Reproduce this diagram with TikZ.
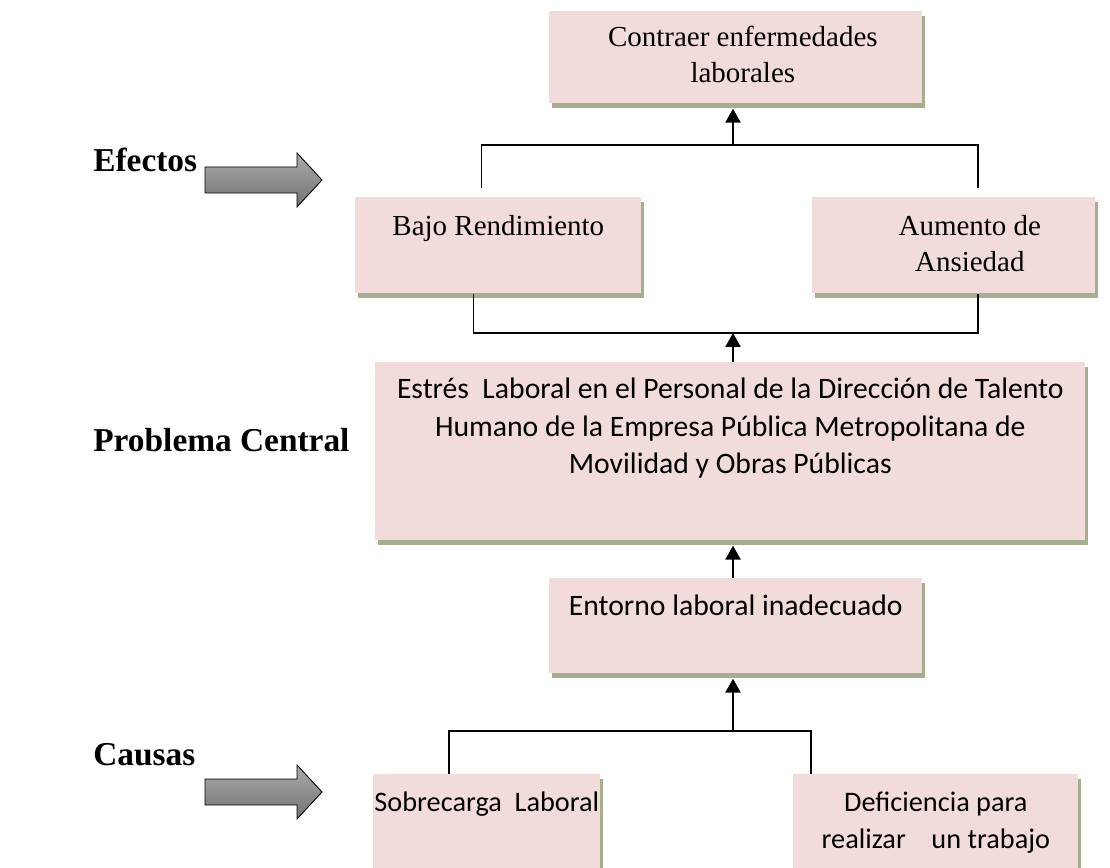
\documentclass[tikz,border=0pt]{standalone}
\usepackage{fontspec}
\setmainfont{Liberation Serif}
\newfontfamily\calibri{Carlito}
\usetikzlibrary{positioning,shadows,arrows.meta}

\definecolor{rosa}{RGB}{242,220,219}
\definecolor{oliva}{RGB}{165,174,144}
\definecolor{grisclaro}{RGB}{170,170,170}
\definecolor{grisoscuro}{RGB}{115,115,115}

\tikzset{
  caja/.style={fill=rosa, anchor=north west, inner sep=0pt,
    general shadow={fill=oliva, shadow xshift=0.06cm, shadow yshift=-0.1cm}},
  serif/.style={align=center, inner sep=0pt, font=\fontsize{16.5}{20.5}\selectfont},
  sans/.style={align=center, inner sep=0pt, font=\calibri\fontsize{16.9}{21.2}\selectfont},
  sanschica/.style={sans, font=\calibri\fontsize{16.1}{21.2}\selectfont},
  titulo/.style={anchor=west, inner sep=0pt, font=\bfseries\fontsize{19}{22}\selectfont},
  flechagris/.style={draw=black, line width=0.5pt, top color=grisclaro, bottom color=grisoscuro},
  linea/.style={line width=0.85pt},
  sube/.style={line width=1.4pt, -{Triangle[width=0.3cm,length=0.28cm]}},
}

\begin{document}
\begin{tikzpicture}[x=0.02cm, y=-0.02cm]
\path[use as bounding box, clip] (0,0) rectangle (1110,868);

% titulos de la izquierda
\node[titulo] (efectos) at (93,160) {Efectos};
\node[titulo] (problema) at (93,440) {Problema Central};
\node[titulo] (causas) at (93,755) {Causas};

\draw[flechagris] (205,167) -- ++(92,0) -- ++(0,-14) -- ++(25,27)
        -- ++(-25,27) -- ++(0,-14) -- ++(-92,0) -- cycle;
\draw[flechagris] (205,779) -- ++(92,0) -- ++(0,-14) -- ++(25,27)
        -- ++(-25,27) -- ++(0,-14) -- ++(-92,0) -- cycle;

% efectos
\node[caja, minimum width=7.46cm, minimum height=1.84cm] (contraer) at (549,11) {};
\node[serif, below=0.3cm of contraer.north, xshift=0.14cm] (contraertxt)
        {Contraer enfermedades\\laborales};

\node[caja, minimum width=5.72cm, minimum height=1.92cm] (bajo) at (355,197) {};
\node[serif, below=0.36cm of bajo.north] (bajotxt) {Bajo Rendimiento};

\node[caja, minimum width=5.66cm, minimum height=1.92cm] (aumento) at (812,197) {};
\node[serif, below=0.36cm of aumento.north, xshift=0.32cm] (aumentotxt)
        {Aumento de\\Ansiedad};

% problema central
\node[caja, minimum width=14.2cm, minimum height=3.56cm] (central) at (375,362) {};
\node[sans, below=0.32cm of central.north] (centraltxt)
        {Estrés~ Laboral en el Personal de la Dirección de Talento\\
         Humano de la Empresa Pública Metropolitana de\\
         Movilidad y Obras Públicas};

% causas
\node[caja, minimum width=7.46cm, minimum height=1.9cm] (entorno) at (549,578) {};
\node[sans, below=0.34cm of entorno.north] (entornotxt) {Entorno laboral inadecuado};

\node[caja, minimum width=4.54cm, minimum height=2.2cm] (sobrecarga) at (373,774) {};
\node[sanschica, below=0.35cm of sobrecarga.north] (sobrecargatxt) {Sobrecarga~ Laboral};

\node[caja, minimum width=5.7cm, minimum height=2.2cm] (deficiencia) at (793,774) {};
\node[sanschica, below=0.35cm of deficiencia.north] (deficienciatxt)
        {Deficiencia para\\realizar~~~ un trabajo};

% conectores
\coordinate (barraE) at (733,145);
\coordinate (barraC) at (733,333);
\coordinate (barraX) at (733,731);

\draw[linea] ([shift={(-17,-9)}]bajo.north) |- (barraE) -| ([shift={(24,-9)}]aumento.north);
\draw[sube] (barraE) -- ([shift={(0,5)}]barraE |- contraer.south);

\draw[linea] ([shift={(-25,0)}]bajo.south) |- (barraC) -| ([shift={(24,0)}]aumento.south);
\draw[sube] (barraC |- central.north) -- (barraC);

\draw[sube] (barraC |- entorno.north) -- ([shift={(0,5)}]barraC |- central.south);

\draw[linea] ([shift={(-38,0)}]sobrecarga.north) |- (barraX) -| ([shift={(-125,0)}]deficiencia.north);
\draw[sube] (barraX) -- ([shift={(0,5)}]barraX |- entorno.south);
\end{tikzpicture}
\end{document}
